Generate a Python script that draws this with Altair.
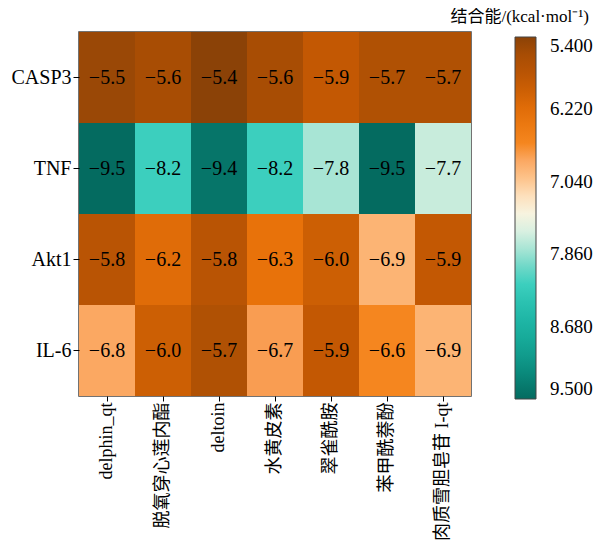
import altair as alt
import pandas as pd

targets = ["CASP3", "TNF", "Akt1", "IL-6"]
compounds = ["delphin_qt", "脱氧穿心莲内酯", "deltoin", "水黄皮素", "翠雀酰胺", "苯甲酰萘酚", "肉质雪胆皂苷 I-qt"]
casp3 = [-5.5, -5.6, -5.4, -5.6, -5.9, -5.7, -5.7]
tnf = [-9.5, -8.2, -9.4, -8.2, -7.8, -9.5, -7.7]
akt1 = [-5.8, -6.2, -5.8, -6.3, -6.0, -6.9, -5.9]
il6 = [-6.8, -6.0, -5.7, -6.7, -5.9, -6.6, -6.9]

legend_ticks = [-9.5, -8.68, -7.86, -7.04, -6.22, -5.4]
color_stops = [-9.5, -9.2, -8.9, -8.5, -8.2, -8.0, -7.86, -7.7, -7.5, -7.35, -7.2, -7.04,
               -6.9, -6.8, -6.7, -6.6, -6.3, -6.2, -6.0, -5.9, -5.7, -5.6, -5.4]
color_hex = ["#046b60", "#0a8a7c", "#14a595", "#22bcab", "#3ccfbe", "#6fd8c8", "#94e0d1",
             "#c8ecdc", "#eaf3e6", "#fdf3dc", "#fde0bc", "#fdc994",
             "#fcb474", "#fba862", "#f99d52", "#f5861f", "#e8720a", "#e06c08",
             "#cc5f04", "#c35803", "#b05104", "#a84d04", "#8b4207"]

rows = []
for t, vals in zip(targets, [casp3, tnf, akt1, il6]):
    for c, v in zip(compounds, vals):
        rows.append({"target": t, "compound": c, "value": v})
df = pd.DataFrame(rows)

FONT = "Liberation Serif, Noto Sans CJK SC"

x_enc = alt.X("compound:N", sort=compounds, title=None,
              axis=alt.Axis(labelAngle=270, labelFontSize=18, labelFont=FONT, labelColor="black",
                            tickColor="black", tickSize=5, labelPadding=1, domain=False,
                            labelLimit=300))
y_enc = alt.Y("target:N", sort=targets, title=None,
              axis=alt.Axis(labelFontSize=20, labelFont=FONT, labelColor="black",
                            tickColor="black", tickSize=6, labelPadding=2, domain=False))

heat = alt.Chart(df).mark_rect().encode(
    x=x_enc,
    y=y_enc,
    color=alt.Color("value:Q",
                    scale=alt.Scale(domain=color_stops, range=color_hex, interpolate="rgb"),
                    legend=alt.Legend(
                        title=None,
                        orient="none", legendX=436, legendY=5,
                        direction="vertical",
                        gradientLength=362, gradientThickness=21,
                        gradientStrokeColor="#444", gradientStrokeWidth=1,
                        values=legend_ticks,
                        labelExpr="format(-datum.value, '.3f')",
                        labelFont=FONT, labelFontSize=19, labelColor="black",
                        labelBaseline="middle", labelOffset=14,
                    )),
)

text = alt.Chart(df).mark_text(font=FONT, fontSize=20, color="black").encode(
    x=alt.X("compound:N", sort=compounds),
    y=alt.Y("target:N", sort=targets),
    text=alt.Text("value:Q", format=".1f"),
)

chart = (heat + text).properties(
    width=392, height=364,
    padding={"left": 2, "top": 0, "right": 0, "bottom": 0},
    title=alt.TitleParams("结合能/(kcal·mol⁻¹)", anchor="end", frame="bounds",
                          font=FONT, fontSize=17, fontWeight="normal", color="black",
                          offset=6, dx=-4),
).configure_view(stroke="#444", strokeWidth=1.5).configure_legend(labelFont=FONT)

chart.save("out.html", embed_options={"renderer": "svg", "actions": False})
